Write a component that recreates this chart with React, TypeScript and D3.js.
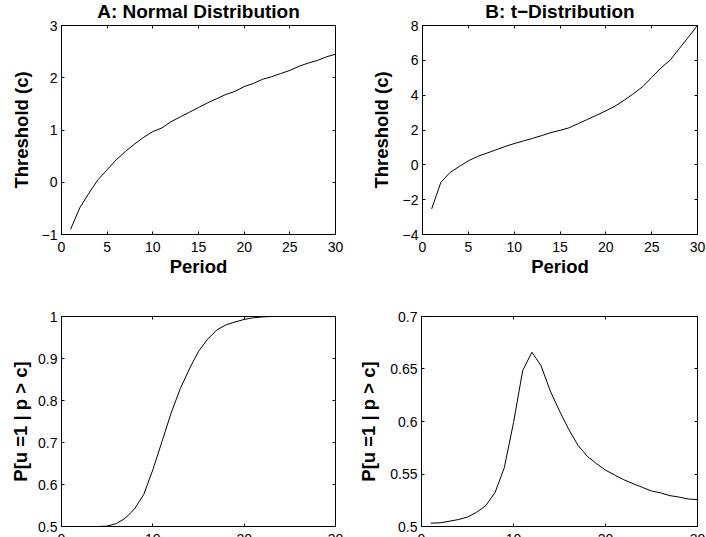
import React, { useEffect, useRef } from 'react';
import * as d3 from 'd3';

// period index (x) shared by all four panels
const periods = [1, 2, 3, 4, 5, 6, 7, 8, 9, 10, 11, 12, 13, 14, 15, 16, 17, 18, 19, 20, 21, 22, 23, 24, 25, 26, 27, 28, 29, 30];

const normalThreshold = [-0.9, -0.49, -0.21, 0.05, 0.24, 0.43, 0.59, 0.73, 0.86, 0.97, 1.04, 1.16, 1.25, 1.34, 1.43, 1.52, 1.6, 1.68, 1.74, 1.83, 1.89, 1.97, 2.02, 2.08, 2.14, 2.22, 2.28, 2.33, 2.4, 2.45];
const tThreshold = [-2.53, -1.01, -0.44, -0.1, 0.23, 0.48, 0.67, 0.86, 1.05, 1.22, 1.37, 1.52, 1.68, 1.85, 1.98, 2.13, 2.37, 2.61, 2.85, 3.1, 3.37, 3.71, 4.08, 4.48, 5.01, 5.56, 6.0, 6.67, 7.33, 8.0];
const normalProb = [0.5, 0.5, 0.5, 0.5, 0.501, 0.507, 0.52, 0.542, 0.576, 0.635, 0.702, 0.77, 0.828, 0.875, 0.917, 0.946, 0.968, 0.98, 0.987, 0.993, 0.997, 0.999, 1, 1, 1, 1, 1, 1, 1, 1];
const tProb = [0.5032, 0.5035, 0.505, 0.5066, 0.509, 0.5136, 0.52, 0.5325, 0.556, 0.599, 0.6485, 0.666, 0.653, 0.629, 0.61, 0.5926, 0.5774, 0.567, 0.56, 0.5537, 0.549, 0.5445, 0.5408, 0.5373, 0.5338, 0.532, 0.5294, 0.528, 0.5262, 0.5256];

const topPeriodTicks = [0, 5, 10, 15, 20, 25, 30];
const bottomPeriodTicks = [0, 10, 20, 30];
const normalThresholdTicks = [-1, 0, 1, 2, 3];
const tThresholdTicks = [-4, -2, 0, 2, 4, 6, 8];
const normalProbTicks = [0.5, 0.6, 0.7, 0.8, 0.9, 1];
const tProbTicks = [0.5, 0.55, 0.6, 0.65, 0.7];

const FONT = 'Liberation Sans, Arial, Helvetica, sans-serif';

const panels = [
  { title: 'A: Normal Distribution', xlabel: 'Period', ylabel: 'Threshold (c)', values: normalThreshold,
    yDomain: [-1, 3], yTicks: normalThresholdTicks, xTicks: topPeriodTicks,
    box: { left: 61.5, right: 335.5, top: 25.5, bottom: 234.5 }, labelX: 28 },
  { title: 'B: t\u2212Distribution', xlabel: 'Period', ylabel: 'Threshold (c)', values: tThreshold,
    yDomain: [-4, 8], yTicks: tThresholdTicks, xTicks: topPeriodTicks,
    box: { left: 422.5, right: 697.5, top: 25.5, bottom: 234.5 }, labelX: 388 },
  { title: '', xlabel: 'Period', ylabel: 'P[u =1 | p > c]', values: normalProb,
    yDomain: [0.5, 1], yTicks: normalProbTicks, xTicks: bottomPeriodTicks,
    box: { left: 61.5, right: 335.5, top: 316.5, bottom: 526.5 }, labelX: 27 },
  { title: '', xlabel: 'Period', ylabel: 'P[u =1 | p > c]', values: tProb,
    yDomain: [0.5, 0.7], yTicks: tProbTicks, xTicks: bottomPeriodTicks,
    box: { left: 421.5, right: 697.5, top: 316.5, bottom: 526.5 }, labelX: 375 },
];

const tickFmt = (d: number) => (d < 0 ? '\u2212' : '') + String(+Math.abs(d).toFixed(2));

export default function App() {
  const ref = useRef<SVGSVGElement>(null);

  useEffect(() => {
    const svg = d3.select(ref.current);
    svg.selectAll('*').remove();

    panels.forEach((p) => {
      const { left, right, top, bottom } = p.box;
      const x = d3.scaleLinear().domain([0, 30]).range([left, right]);
      const y = d3.scaleLinear().domain(p.yDomain).range([bottom, top]);
      const g = svg.append('g');

      // box
      g.append('rect')
        .attr('x', left).attr('y', top)
        .attr('width', right - left).attr('height', bottom - top)
        .attr('fill', 'white').attr('stroke', 'black').attr('stroke-width', 1);

      // inward ticks on all four sides
      const tl = 3;
      p.xTicks.forEach((t) => {
        const px = Math.round(x(t) - 0.5) + 0.5;
        g.append('line').attr('x1', px).attr('x2', px).attr('y1', bottom).attr('y2', bottom - tl).attr('stroke', 'black');
        g.append('line').attr('x1', px).attr('x2', px).attr('y1', top).attr('y2', top + tl).attr('stroke', 'black');
        g.append('text').attr('x', x(t)).attr('y', bottom + 17)
          .attr('text-anchor', 'middle').attr('font-family', FONT).attr('font-size', 14)
          .text(tickFmt(t));
      });
      p.yTicks.forEach((t) => {
        const py = Math.round(y(t) - 0.5) + 0.5;
        g.append('line').attr('x1', left).attr('x2', left + tl).attr('y1', py).attr('y2', py).attr('stroke', 'black');
        g.append('line').attr('x1', right).attr('x2', right - tl).attr('y1', py).attr('y2', py).attr('stroke', 'black');
        g.append('text').attr('x', left - 4).attr('y', y(t) + 5)
          .attr('text-anchor', 'end').attr('font-family', FONT).attr('font-size', 14)
          .text(tickFmt(t));
      });

      // curve
      const line = d3.line<number>().x((_, i) => x(periods[i])).y((d) => y(d));
      g.append('path').datum(p.values)
        .attr('d', line)
        .attr('fill', 'none').attr('stroke', 'black').attr('stroke-width', 1);

      // labels
      const cx = (left + right) / 2;
      const cy = (top + bottom) / 2;
      if (p.title) {
        g.append('text').attr('x', cx).attr('y', 17.5)
          .attr('text-anchor', 'middle').attr('font-family', FONT).attr('font-size', 19).attr('font-weight', 'bold')
          .text(p.title);
      }
      g.append('text').attr('x', cx).attr('y', bottom + 38.5)
        .attr('text-anchor', 'middle').attr('font-family', FONT).attr('font-size', 18.5).attr('font-weight', 'bold')
        .text(p.xlabel);
      g.append('text')
        .attr('transform', `translate(${p.labelX}, ${cy}) rotate(-90)`)
        .attr('text-anchor', 'middle').attr('font-family', FONT).attr('font-size', 18.5).attr('font-weight', 'bold')
        .text(p.ylabel);
    });
  }, []);

  return (
    <svg ref={ref} width={706} height={537}
      style={{ position: 'absolute', left: 0, top: 0, background: 'white' }} />
  );
}
